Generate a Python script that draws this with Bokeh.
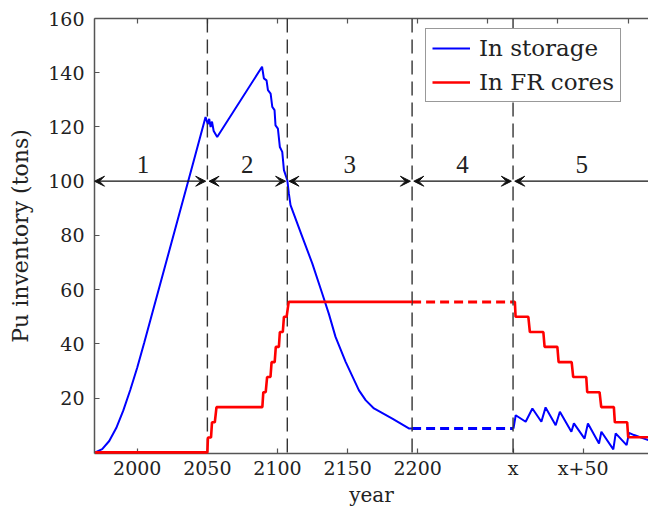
from bokeh.plotting import figure
from bokeh.models import (Range1d, LinearAxis, FixedTicker, Span, Arrow, VeeHead,
                          Legend, LegendItem)
from bokeh.core.properties import value
from bokeh.embed import file_html
from bokeh.resources import INLINE

# ---------------- data ----------------
# Pu in storage, phases 1-3
storage_years = [1970, 1975, 1980, 1985, 1990, 1995, 2000, 2005, 2010, 2020, 2030,
                 2040, 2048.7, 2050.3, 2051.3, 2052.3, 2053.3, 2054.5, 2057, 2089,
                 2090.3, 2092.2, 2093.2, 2095.1, 2096.3, 2097.9, 2098.6, 2100.3, 2101.7,
                 2103.4, 2104.6, 2107, 2108.1, 2109.3, 2117.7, 2124.8, 2131.9, 2136.7,
                 2141.4, 2148.6, 2158.1, 2163, 2168.8, 2181.9, 2194, 2196]
storage = [0, 1.2, 4.2, 9.0, 15.4, 23.0, 31.3, 40.5, 50.0, 69, 88,
           107, 123.7, 121, 123, 120, 122, 118.5, 116.3, 142.2,
           137.9, 137.2, 133.6, 132.3, 127.4, 126.2, 120.6, 119.4, 112.6,
           110.8, 104.1, 100.4, 95.5, 91.2, 79.5, 69.7, 58.6, 51,
           42.6, 33.4, 22.9, 19.2, 16.2, 12.5, 8.8, 8.8]
# Pu in storage, phase 5 (years after "x")
storage_late_years = [2268.3, 2269.9, 2277, 2281.8, 2288.2, 2291.2, 2298.4, 2301.4, 2309.6,
                      2311.4, 2319, 2321.4, 2329.3, 2331, 2339.5, 2341.2, 2349, 2350.7,
                      2354.3, 2364.7]
storage_late = [8.8, 13.7, 11.3, 16.2, 11.3, 16.6, 10.0, 15.0, 7.6,
                10.7, 5.1, 10.7, 3.3, 7.6, 1.1, 7.0, 2.7, 7.2,
                6.4, 4.5]
# Pu in fast-reactor cores, phases 1-3
cores_years = [1970, 2050.0, 2050.4, 2052.6, 2053.3, 2055.3, 2056.5, 2089.2, 2089.9, 2091.6,
               2092.6, 2095.0, 2095.8, 2098.0, 2098.8, 2101.0, 2101.7, 2103.8, 2104.6,
               2106.5, 2108.0, 2196]
cores = [0, 0, 5.5, 5.5, 11.1, 11.1, 16.7, 16.7, 22.2, 22.2,
         27.8, 27.8, 33.3, 33.3, 38.9, 38.9, 44.4, 44.4, 50.0,
         50.0, 55.5, 55.5]
# Pu in fast-reactor cores, phase 5
cores_late_years = [2268.3, 2269.3, 2269.8, 2278.9, 2280.0, 2289.6, 2290.5, 2299.6, 2300.5,
                    2309.8, 2310.9, 2320.2, 2320.9, 2329.7, 2330.9, 2339.9, 2340.6, 2349.4,
                    2350.1, 2364.7]
cores_late = [55.5, 55.5, 50.0, 50.0, 44.4, 44.4, 38.9, 38.9, 33.3,
              33.3, 27.8, 27.8, 22.2, 22.2, 16.7, 16.7, 11.1, 11.1,
              5.6, 5.6]
# phase 4 (unknown duration, drawn dashed)
hold_years = [2196, 2268]
storage_hold = [8.8, 8.8]
cores_hold = [55.5, 55.5]

phase_edges = [1958, 2050, 2107, 2196, 2268, 2366]
phase_names = ["1", "2", "3", "4", "5"]

x_ticks = [2000, 2050, 2100, 2150, 2200, 2268, 2318]
x_tick_labels = ["2000", "2050", "2100", "2150", "2200", "x", "x+50"]
top_ticks = [2000, 2050, 2100, 2150, 2200, 2250, 2300, 2350]
y_ticks = [20, 40, 60, 80, 100, 120, 140, 160]

X_MIN, X_MAX = 1969.5, 2364.6
ARROW_Y = 100
LABEL_Y = 106

SERIF = "DejaVu Serif"
BLUE = "#0000ff"
RED = "#ff0000"
AXIS = "#555555"

# ---------------- figure ----------------
p = figure(width=648, height=510, output_backend="svg", toolbar_location=None,
           x_range=Range1d(X_MIN, X_MAX), y_range=Range1d(-0.4, 160),
           min_border_left=94, min_border_right=0, min_border_top=18, min_border_bottom=57,
           x_axis_type=None, y_axis_type=None)
p.outline_line_color = None
p.xgrid.visible = False
p.ygrid.visible = False
p.background_fill_color = "white"
p.border_fill_color = "white"

def style_axis(ax):
    ax.axis_line_color = AXIS
    ax.axis_line_width = 1.5
    ax.major_tick_line_color = AXIS
    ax.major_tick_line_width = 1.2
    ax.major_tick_in = 5
    ax.major_tick_out = 0
    ax.minor_tick_line_color = None
    ax.major_label_text_font = SERIF
    ax.major_label_text_font_size = "19px"
    ax.major_label_text_color = "#222222"
    ax.axis_label_text_font = SERIF
    ax.axis_label_text_font_style = "normal"
    ax.axis_label_text_color = "#222222"

xb = LinearAxis(ticker=FixedTicker(ticks=x_ticks),
                major_label_overrides={t: l for t, l in zip(x_ticks, x_tick_labels)},
                axis_label="year")
style_axis(xb)
xb.major_label_standoff = 3
xb.axis_label_standoff = 1
xb.axis_label_text_font_size = "20px"
p.add_layout(xb, "below")

xt = LinearAxis(ticker=FixedTicker(ticks=top_ticks),
                major_label_overrides={t: "" for t in top_ticks})
style_axis(xt)
xt.major_label_text_font_size = "1px"
xt.major_label_standoff = 0
p.add_layout(xt, "above")

yl = LinearAxis(ticker=FixedTicker(ticks=y_ticks), axis_label="Pu inventory (tons)")
style_axis(yl)
yl.major_label_standoff = 10
yl.axis_label_standoff = 12
yl.axis_label_text_font_size = "22px"
p.add_layout(yl, "left")

# phase boundaries
for b in phase_edges[1:-1]:
    p.add_layout(Span(location=b, dimension="height", line_color="#333333",
                      line_width=1.4, line_dash="14 7"))

# phase arrows
gap = 1.2
for i in range(len(phase_names)):
    xs = max(phase_edges[i], X_MIN) + (gap if phase_edges[i] > X_MIN else 0)
    last = i == len(phase_names) - 1
    xe = X_MAX + 5 if last else phase_edges[i + 1] - gap
    p.add_layout(Arrow(x_start=xs, y_start=ARROW_Y, x_end=xe, y_end=ARROW_Y,
                       line_color="#111111", line_width=1.3,
                       start=VeeHead(size=10, fill_color="#111111", line_color="#111111", line_width=1),
                       end=None if last else VeeHead(size=10, fill_color="#111111",
                                                     line_color="#111111", line_width=1)))

mids = [(phase_edges[i] + phase_edges[i + 1]) / 2 for i in range(len(phase_names))]
p.text(x=mids, y=[LABEL_Y] * len(mids), text=phase_names,
       text_font=value("Liberation Serif"), text_font_size="25px",
       text_color="#222222", text_align="center", text_baseline="middle")

# data lines
r_s1 = p.line(storage_years, storage, line_color=BLUE, line_width=2)
p.line(hold_years, storage_hold, line_color=BLUE, line_width=3, line_dash="9 5")
p.line(storage_late_years, storage_late, line_color=BLUE, line_width=2)

r_c1 = p.line(cores_years, cores, line_color=RED, line_width=2.6, level="overlay")
p.line(hold_years, cores_hold, line_color=RED, line_width=3, line_dash="9 5")
p.line(cores_late_years, cores_late, line_color=RED, line_width=2.6)

legend = Legend(items=[LegendItem(label="In storage", renderers=[r_s1]),
                       LegendItem(label="In FR cores", renderers=[r_c1])],
                location=(331, 351))
legend.label_text_font = SERIF
legend.label_text_font_size = "23px"
legend.label_text_color = "#222222"
legend.glyph_width = 38
legend.glyph_height = 20
legend.label_height = 20
legend.label_standoff = 9
legend.padding = 6
legend.spacing = 8
legend.margin = 0
legend.border_line_color = "#333333"
legend.border_line_width = 1.2
legend.background_fill_color = "white"
legend.background_fill_alpha = 1.0
p.add_layout(legend, "center")

open("out.html", "w").write(file_html(p, INLINE))
